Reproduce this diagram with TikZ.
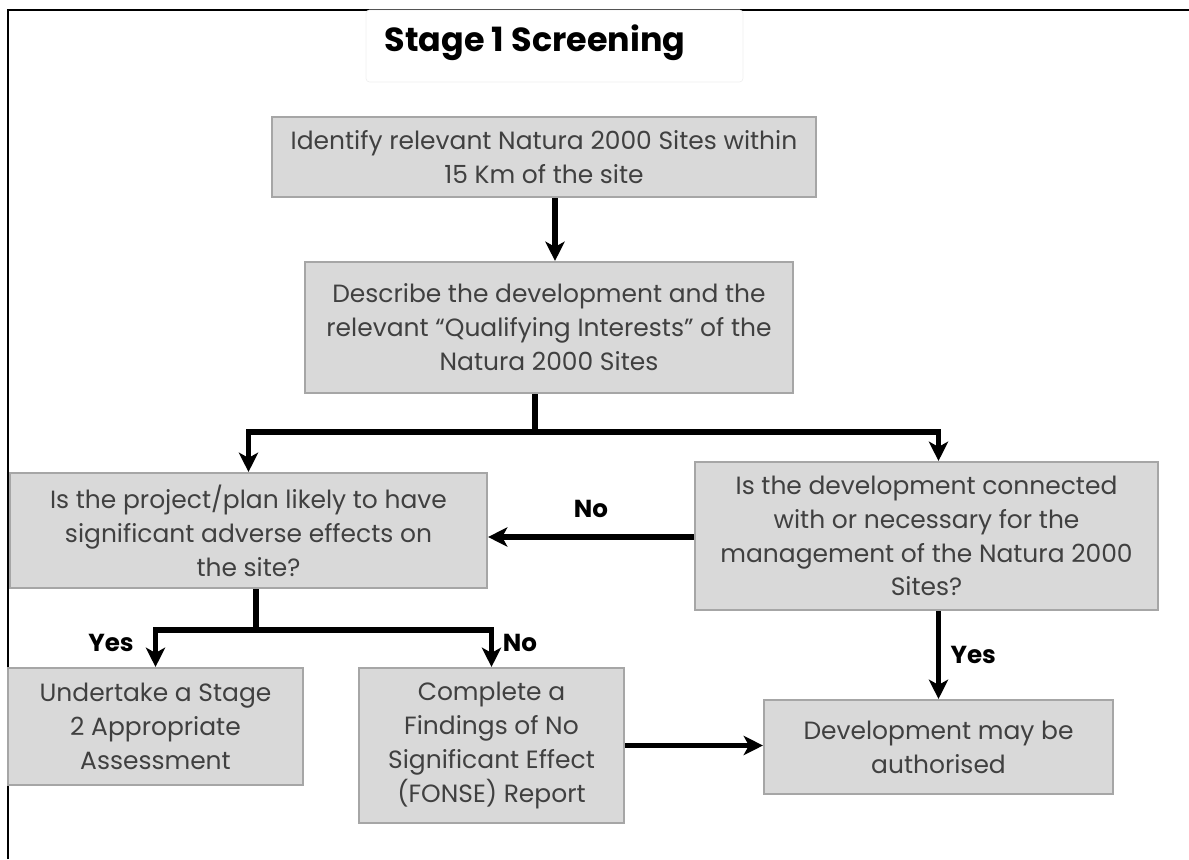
\documentclass[tikz,border=0pt]{standalone}
\usepackage{fontspec}
\setmainfont{Poppins}
\usetikzlibrary{arrows.meta}

\definecolor{boxfill}{HTML}{D9D9D9}
\definecolor{boxedge}{HTML}{A6A6A6}
\definecolor{boxtext}{HTML}{404040}
\definecolor{titleedge}{HTML}{F0F0F0}

\tikzset{
  flowbox/.style={draw=boxedge, line width=1.2pt, fill=boxfill, text=boxtext,
    align=center, inner sep=0pt, font=\fontsize{14.2}{19.3}\selectfont},
  flowarrow/.style={line width=3pt, -{Stealth[length=11pt, width=11pt, inset=3pt]}},
  flowline/.style={line width=3pt},
  answer/.style={font=\fontsize{14}{16}\selectfont\bfseries, text=black},
}

\begin{document}
\begin{tikzpicture}[x=0.02cm, y=-0.02cm]
    \useasboundingbox (0,0) rectangle (1189,859);

    % outer frame, open on the right and at the bottom
    \draw[line width=1.7pt] (8,859) -- (8,10) -- (1189,10);

    % title
    \node[draw=titleedge, fill=white, rounded corners=2pt, minimum width=377*0.02cm,
          minimum height=72*0.02cm] (titlebox) at (554.5,46) {};
    \node[font=\fontsize{19}{22}\selectfont\bfseries] (title) at (535,43) {Stage 1 Screening};

    % boxes
    \node[flowbox, minimum width=544*0.02cm, minimum height=80*0.02cm] (ident) at (544,157)
      {Identify relevant Natura 2000 Sites within\\15 Km of the site};
    \node[flowbox, minimum width=488*0.02cm, minimum height=131*0.02cm] (descr) at (549,327.5)
      {Describe the development and the\\relevant “Qualifying Interests” of the\\Natura 2000 Sites};
    \node[flowbox, minimum width=477*0.02cm, minimum height=115*0.02cm] (likely) at (248.5,530.5)
      {Is the project/plan likely to have\\significant adverse effects on\\the site?};
    \node[flowbox, minimum width=463*0.02cm, minimum height=148*0.02cm] (connect) at (926.5,536)
      {Is the development connected\\with or necessary for the\\management of the Natura 2000\\Sites?};
    \node[flowbox, minimum width=295*0.02cm, minimum height=117*0.02cm] (stagetwo) at (155.5,726.5)
      {Undertake a Stage\\2 Appropriate\\Assessment};
    \node[flowbox, minimum width=265*0.02cm, minimum height=155*0.02cm] (fonse) at (491.5,745.5)
      {Complete a\\Findings of No\\Significant Effect\\(FONSE) Report};
    \node[flowbox, minimum width=349*0.02cm, minimum height=94*0.02cm] (authorised) at (938.5,747)
      {Development may be\\authorised};

    % junction points
    \coordinate (split) at (535,432);
    \coordinate (fork) at (256,630);

    % connectors
    \draw[flowarrow] (ident.south -| 555,0) -- (descr.north -| 555,0);
    \draw[flowline] (descr.south -| split) -- (split);
    \draw[flowarrow] (split) -| (likely.north);
    \draw[flowarrow] (split) -| (authorised.north |- connect.north);
    \draw[flowarrow] (connect.west |- 0,537) -- (likely.east |- 0,537)
      node[answer, midway, above=6pt] (nolbl) {No};
    \draw[flowline] (likely.south -| fork) -- (fork);
    \draw[flowarrow] (fork) -| (stagetwo.north);
    \draw[flowarrow] (fork) -| (fonse.north);
    \draw[flowarrow] (connect.south -| authorised.north) -- (authorised.north)
      node[answer, midway, right=2pt] (yesright) {Yes};
    \draw[flowarrow] (fonse.east) -- (fonse.east -| authorised.west);

    % answer labels
    \node[answer] (yesleft) at (111,643) {Yes};
    \node[answer] (noleft) at (520,643) {No};
\end{tikzpicture}
\end{document}
